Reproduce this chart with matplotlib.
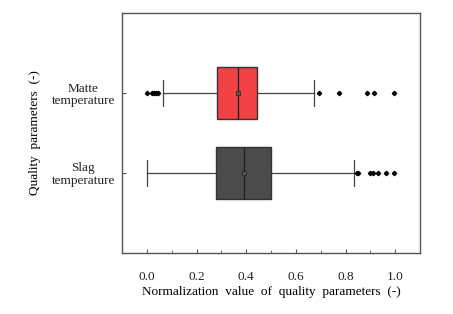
import matplotlib
matplotlib.use("Agg")
import matplotlib.pyplot as plt
import numpy as np

plt.rcParams['font.family'] = ['Liberation Serif', 'DejaVu Serif']

categories = ["Slag\ntemperature", "Matte\ntemperature"]
positions = [1, 2]
colors = ["#4b4b4b", "#f24245"]

# box statistics
q1 = [0.277, 0.284]
median = [0.391, 0.368]
q3 = [0.501, 0.442]
whislo = [0.001, 0.064]
whishi = [0.833, 0.672]
means = [0.391, 0.368]
fliers = [
    [0.846, 0.852, 0.898, 0.909, 0.932, 0.964, 0.997],
    [0.001, 0.020, 0.028, 0.036, 0.043, 0.693, 0.772, 0.886, 0.914, 0.997],
]

stats = []
for i in range(2):
    stats.append(dict(med=median[i], q1=q1[i], q3=q3[i], whislo=whislo[i],
                      whishi=whishi[i], mean=means[i], fliers=fliers[i], label=categories[i]))

fig = plt.figure(figsize=(4.53, 3.14), dpi=100)
ax = fig.add_axes([122/453, 1-253/314, (420-122)/453, (253-13)/314])

bp = ax.bxp(stats, positions=positions, vert=False, widths=0.64, patch_artist=True,
            showmeans=True, showfliers=True,
            boxprops=dict(edgecolor="#333333", linewidth=1.0),
            medianprops=dict(color="#222222", linewidth=1.0),
            whiskerprops=dict(color="#444444", linewidth=0.9),
            capprops=dict(color="#444444", linewidth=0.9),
            capwidths=0.32,
            meanprops=dict(marker="s", markersize=3, markerfacecolor="#555555",
                           markeredgecolor="#222222", markeredgewidth=0.5),
            flierprops=dict(marker="D", markersize=2.2, markerfacecolor="black",
                            markeredgecolor="black"))
for patch, c in zip(bp["boxes"], colors):
    patch.set_facecolor(c)

ax.set_xlim(-0.1, 1.1)
ax.set_ylim(0, 3)
ax.set_xticks([0.0, 0.2, 0.4, 0.6, 0.8, 1.0])
ax.set_xticks(np.arange(-0.1, 1.11, 0.1), minor=True)
ax.set_xticklabels(["0.0", "0.2", "0.4", "0.6", "0.8", "1.0"])
ax.set_yticks(positions)
ax.set_yticklabels(categories, multialignment="center", linespacing=1.1)
ax.tick_params(axis="x", direction="in", length=3, labelsize=9.5, pad=13, color="#555555",
               labelcolor="#222222")
ax.tick_params(axis="x", which="minor", direction="in", length=2, color="#555555")
ax.tick_params(axis="y", direction="in", length=3, labelsize=9.5, pad=5, color="#555555",
               labelcolor="#222222")
for s in ax.spines.values():
    s.set_color("#555555")
    s.set_linewidth(1.0)

ax.set_xlabel("Normalization  value  of  quality  parameters  (-)", fontsize=9.5, labelpad=2)
ax.set_ylabel("Quality  parameters  (-)", fontsize=9.5, labelpad=8)

fig.savefig("out.png", dpi=100)
